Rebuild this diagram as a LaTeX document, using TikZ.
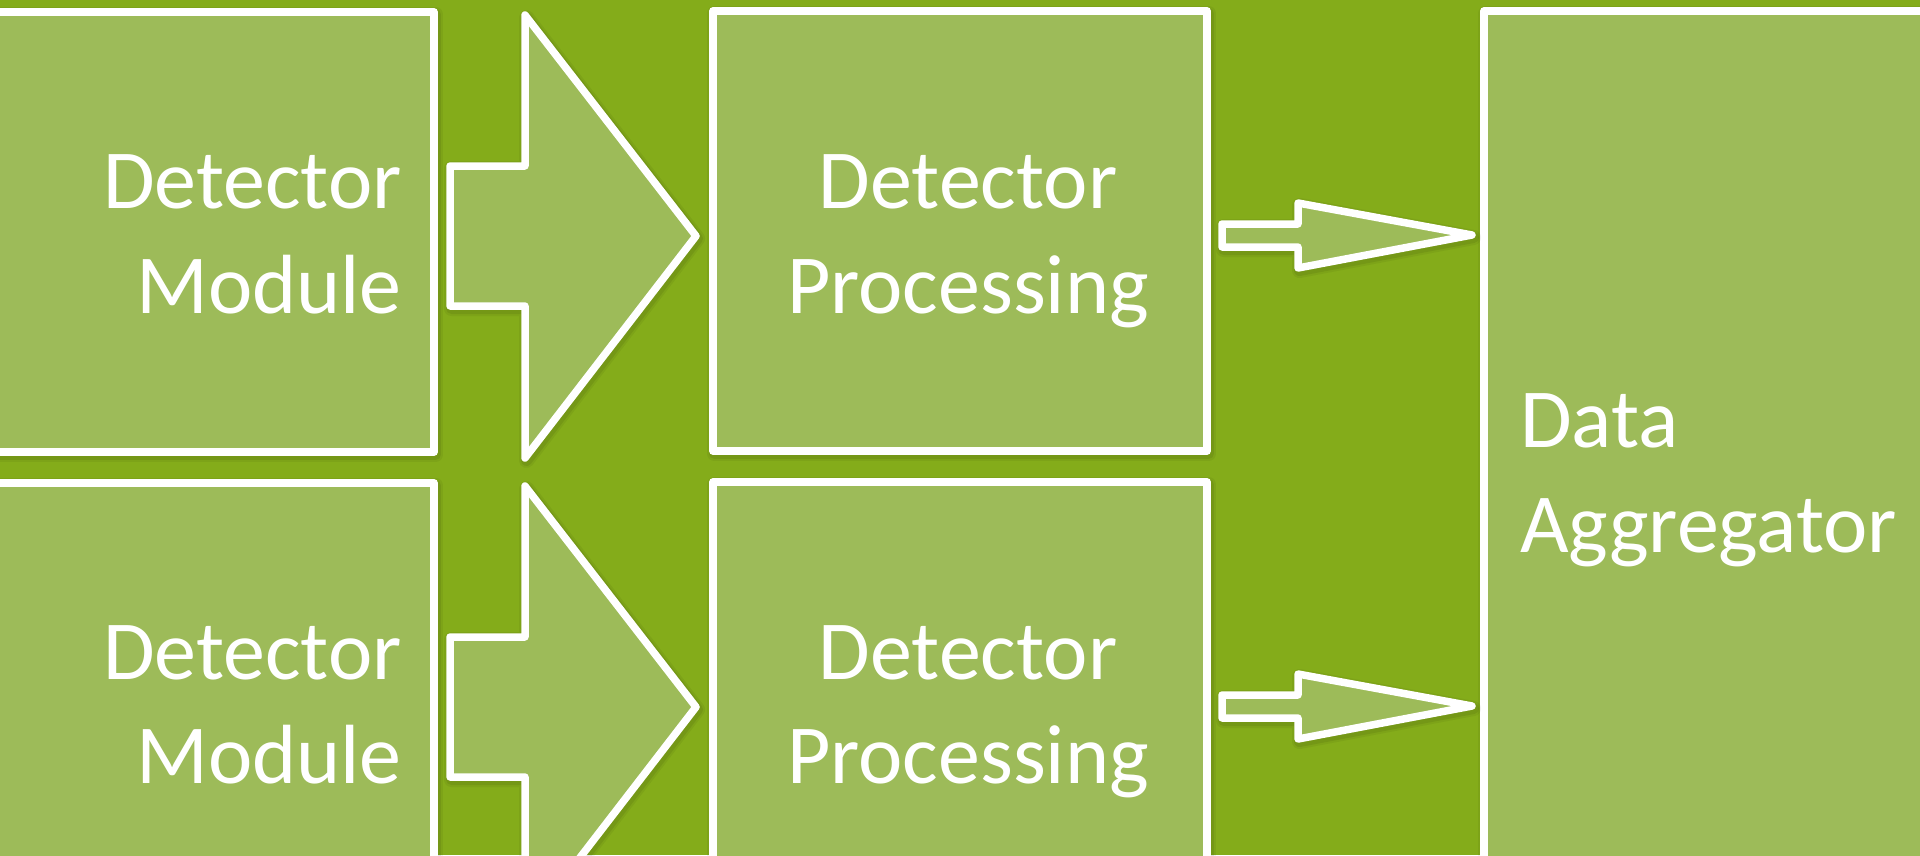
\documentclass[tikz,border=0pt]{standalone}
\usepackage{fontspec}
\setmainfont{Carlito}
\definecolor{bgreen}{RGB}{132,172,26}
\definecolor{boxfill}{RGB}{157,187,89}
\begin{document}
\begin{tikzpicture}[x=1pt,y=-1pt,
  shadowed/.style={preaction={draw=black, draw opacity=0.05, line width=15pt, line join=round, transform canvas={shift={(1.5pt,-2.5pt)}}},
                   preaction={draw=black, draw opacity=0.07, line width=11pt, line join=round, transform canvas={shift={(1.5pt,-2.5pt)}}}},
  box/.style={shadowed, draw=white, line width=7.5pt, fill=boxfill, line join=round, rectangle, outer sep=0pt, inner sep=0pt, anchor=north west},
  shp/.style={shadowed, draw=white, line width=7.5pt, fill=boxfill, line join=round},
  lbl/.style={text=white, font=\fontsize{84}{105}\selectfont, inner sep=0pt}]
\useasboundingbox (0,0) rectangle (1920,855);
\fill[bgreen] (0,0) rectangle (1920,855);

% boxes
\node[box, minimum width=464pt, minimum height=440pt] (dm1) at (-30,12) {};
\node[box, minimum width=464pt, minimum height=440pt] (dm2) at (-30,483) {};
\node[box, minimum width=494pt, minimum height=440pt] (dp1) at (713,11) {};
\node[box, minimum width=494pt, minimum height=440pt] (dp2) at (713,482) {};
\node[box, minimum width=500pt, minimum height=900pt] (agg) at (1484,11) {};

% big arrows
\path[shp] (450,166) -- (525,166) -- (525,15) -- (696,236) -- (525,458) -- (525,306) -- (450,306) -- cycle;
\path[shp] (450,637) -- (525,637) -- (525,486) -- (696,707) -- (525,929) -- (525,777) -- (450,777) -- cycle;

% small arrows
\path[shp] (1222,224) -- (1298,224) -- (1298,203) -- (1472,235) -- (1298,268) -- (1298,247) -- (1222,247) -- cycle;
\path[shp] (1222,695) -- (1298,695) -- (1298,674) -- (1472,706) -- (1298,739) -- (1298,718) -- (1222,718) -- cycle;

% labels
\node[lbl, anchor=base east] (dm1a) at (402,208) {Detector};
\node[lbl, anchor=base east] (dm1b) at (402,313) {Module};
\node[lbl, anchor=base east] (dm2a) at (402,679) {Detector};
\node[lbl, anchor=base east] (dm2b) at (402,783) {Module};
\node[lbl, anchor=base] (dp1a) at (968,208) {Detector};
\node[lbl, anchor=base] (dp1b) at (968,313) {Processing};
\node[lbl, anchor=base] (dp2a) at (968,679) {Detector};
\node[lbl, anchor=base] (dp2b) at (968,783) {Processing};
\node[lbl, anchor=base west] (agga) at (1520,447) {Data};
\node[lbl, anchor=base west] (aggb) at (1520,552) {Aggregator};
\end{tikzpicture}
\end{document}
